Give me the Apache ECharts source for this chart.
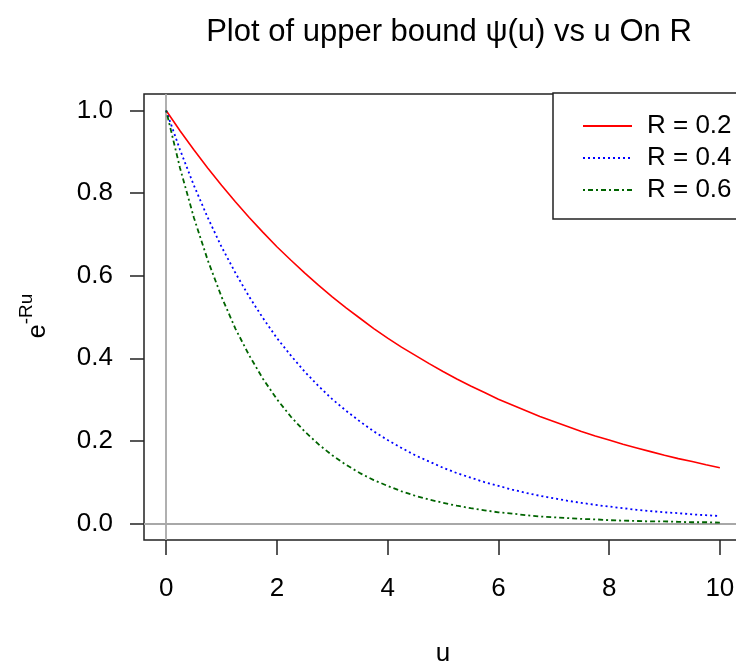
<!DOCTYPE html>
<html>
<head>
<meta charset="utf-8">
<script src="https://cdn.jsdelivr.net/npm/echarts@6/dist/echarts.min.js"></script>
<style>
  html, body { margin: 0; padding: 0; background: #fff; }
  #chart { width: 736px; height: 666px; }
</style>
</head>
<body>
<div id="chart"></div>
<script>
// u values along the horizontal axis
const uValues = [0, 0.25, 0.5, 0.75, 1, 1.25, 1.5, 1.75, 2, 2.25, 2.5, 2.75, 3, 3.25, 3.5, 3.75,
  4, 4.25, 4.5, 4.75, 5, 5.25, 5.5, 5.75, 6, 6.25, 6.5, 6.75, 7, 7.25, 7.5, 7.75,
  8, 8.25, 8.5, 8.75, 9, 9.25, 9.5, 9.75, 10];
// upper bound e^{-Ru} for each R
const boundR02 = [1.000, 0.951, 0.905, 0.861, 0.819, 0.779, 0.741, 0.705, 0.670, 0.638, 0.607, 0.577, 0.549, 0.522, 0.497, 0.472,
  0.449, 0.427, 0.407, 0.387, 0.368, 0.350, 0.333, 0.317, 0.301, 0.287, 0.273, 0.259, 0.247, 0.235, 0.223, 0.212,
  0.202, 0.192, 0.183, 0.174, 0.165, 0.157, 0.150, 0.142, 0.135];
const boundR04 = [1.000, 0.905, 0.819, 0.741, 0.670, 0.607, 0.549, 0.497, 0.449, 0.407, 0.368, 0.333, 0.301, 0.273, 0.247, 0.223,
  0.202, 0.183, 0.165, 0.150, 0.135, 0.122, 0.111, 0.100, 0.091, 0.082, 0.074, 0.067, 0.061, 0.055, 0.050, 0.045,
  0.041, 0.037, 0.033, 0.030, 0.027, 0.025, 0.022, 0.020, 0.018];
const boundR06 = [1.000, 0.861, 0.741, 0.638, 0.549, 0.472, 0.407, 0.350, 0.301, 0.259, 0.223, 0.192, 0.165, 0.142, 0.122, 0.105,
  0.091, 0.078, 0.067, 0.058, 0.050, 0.043, 0.037, 0.032, 0.027, 0.024, 0.020, 0.017, 0.015, 0.013, 0.011, 0.010,
  0.008, 0.007, 0.006, 0.005, 0.005, 0.004, 0.003, 0.003, 0.002];
const seriesNames = ['R = 0.2', 'R = 0.4', 'R = 0.6'];
const xTicks = [0, 2, 4, 6, 8, 10];
const yTicks = [0, 0.2, 0.4, 0.6, 0.8, 1.0];

const pairs = ys => uValues.map((u, i) => [u, ys[i]]);
const font = '"Liberation Sans", Arial, sans-serif';

const chart = echarts.init(document.getElementById('chart'));
chart.setOption({
  animation: false,
  backgroundColor: '#ffffff',
  title: {
    text: 'Plot of upper bound ψ(u) vs u On R',
    left: 444, top: 12, textAlign: 'center',
    textStyle: { fontFamily: font, fontSize: 31, fontWeight: 'normal', color: '#000' }
  },
  grid: {
    left: 144, right: -6, top: 94, bottom: 126,
    containLabel: false, outerBoundsMode: 'none',
    show: true, borderColor: '#222', borderWidth: 1.5, backgroundColor: 'transparent'
  },
  xAxis: {
    type: 'value', min: -0.4, max: 10.4,
    name: 'u', nameLocation: 'middle', nameGap: 101,
    nameTextStyle: { fontFamily: font, fontSize: 26, color: '#000' },
    axisLine: { show: false, onZero: false },
    splitLine: { show: false },
    axisTick: { show: true, inside: false, length: 15, customValues: xTicks, lineStyle: { color: '#222', width: 1.5 } },
    axisLabel: { customValues: xTicks, margin: 36, fontFamily: font, fontSize: 26, color: '#000' }
  },
  yAxis: {
    type: 'value', min: -0.04, max: 1.04,
    axisLine: { show: false, onZero: false },
    splitLine: { show: false },
    axisTick: { show: true, inside: false, length: 14, customValues: yTicks, lineStyle: { color: '#222', width: 1.5 } },
    axisLabel: { customValues: yTicks, margin: 31, fontFamily: font, fontSize: 26, color: '#000',
      formatter: v => v.toFixed(1) }
  },
  legend: {
    orient: 'vertical', left: 577, top: 108,
    itemWidth: 49, itemHeight: 14, itemGap: 6,
    itemStyle: { opacity: 0, borderWidth: 0 },
    textStyle: { fontFamily: font, fontSize: 26, color: '#000', padding: [0, 0, 0, 10] },
    data: seriesNames
  },
  graphic: [
    { type: 'rect', shape: { x: 553, y: 93, width: 200, height: 126 },
      style: { fill: '#fff', stroke: '#222', lineWidth: 1.5 }, z: 0 },
    { type: 'text', x: 34, y: 316, rotation: Math.PI / 2,
      style: { text: '{b|e}{s|-Ru}', fill: '#000', align: 'center', verticalAlign: 'middle',
        rich: {
          b: { fontFamily: font, fontSize: 25, fill: '#000', verticalAlign: 'bottom', lineHeight: 34 },
          s: { fontFamily: font, fontSize: 19, fill: '#000', verticalAlign: 'top', lineHeight: 34 }
        } } }
  ],
  series: [
    { name: seriesNames[0], type: 'line', data: pairs(boundR02), showSymbol: false, symbol: 'none', z: 5,
      lineStyle: { color: '#ff0000', width: 1.6, type: 'solid' }, itemStyle: { color: '#ff0000' },
      markLine: { silent: true, symbol: 'none', label: { show: false }, z: 1,
        lineStyle: { color: '#a8a8a8', width: 1.8, type: 'solid' },
        data: [{ xAxis: 0 }, { yAxis: 0 }] } },
    { name: seriesNames[1], type: 'line', data: pairs(boundR04), showSymbol: false, symbol: 'none', z: 5,
      lineStyle: { color: '#0000ff', width: 1.8, type: [2, 3] }, itemStyle: { color: '#0000ff' } },
    { name: seriesNames[2], type: 'line', data: pairs(boundR06), showSymbol: false, symbol: 'none', z: 5,
      lineStyle: { color: '#006400', width: 1.8, type: [2, 3, 5, 3] }, itemStyle: { color: '#006400' } }
  ]
});
</script>
</body>
</html>
